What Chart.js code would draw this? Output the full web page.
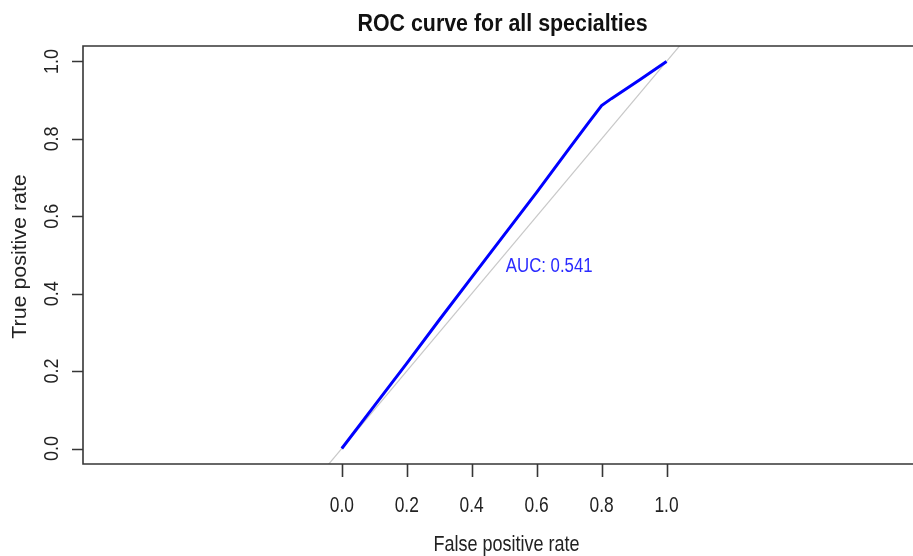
<!DOCTYPE html>
<html>
<head>
<meta charset="utf-8">
<script src="https://cdn.jsdelivr.net/npm/chart.js@4.4.0/dist/chart.umd.min.js"></script>
<style>
  html, body { margin: 0; padding: 0; background: #fff; }
  canvas { display: block; }
</style>
</head>
<body>
<canvas id="roc" width="913" height="556"></canvas>
<script>
// ROC points (false positive rate / true positive rate)
const fpr = [0, 0.1, 0.2, 0.3, 0.4, 0.5, 0.6, 0.7, 0.76, 0.8, 0.83, 0.92, 1.0];
const tpr = [0, 0.11, 0.22, 0.332, 0.442, 0.552, 0.662, 0.775, 0.842, 0.886, 0.904, 0.954, 1.0];

// y = x reference line, clipped by the plot area
const refX = [-0.8, 1.8];
const refY = [-0.8, 1.8];

const xTicks = [0, 0.2, 0.4, 0.6, 0.8, 1.0];
const yTicks = [0, 0.2, 0.4, 0.6, 0.8, 1.0];
const auc = 0.541;

const TXT = "#222";
const AXIS = "#363636";

function zip(xs, ys) {
  return xs.map((x, i) => ({ x: x, y: ys[i] }));
}

// draw a string with a horizontal squeeze factor, optionally rotated
function drawText(ctx, str, x, y, o) {
  ctx.save();
  ctx.translate(x, y);
  if (o.rotate) ctx.rotate(-Math.PI / 2);
  ctx.scale(o.sx || 1, 1);
  ctx.font = o.font;
  ctx.fillStyle = o.color || TXT;
  ctx.textAlign = o.align || "center";
  ctx.textBaseline = "alphabetic";
  ctx.fillText(str, 0, 0);
  ctx.restore();
}

const rAxes = {
  id: "rAxes",
  afterDraw(chart) {
    const ctx = chart.ctx;
    const a = chart.chartArea;
    const xs = chart.scales.x, ys = chart.scales.y;

    // box: left, top, bottom
    ctx.save();
    ctx.strokeStyle = AXIS;
    ctx.lineWidth = 1.6;
    ctx.beginPath();
    ctx.moveTo(chart.width, a.top);
    ctx.lineTo(a.left, a.top);
    ctx.lineTo(a.left, a.bottom);
    ctx.lineTo(chart.width, a.bottom);
    ctx.stroke();

    // tick marks
    ctx.beginPath();
    xTicks.forEach(v => {
      const px = Math.round(xs.getPixelForValue(v)) + 0.5;
      ctx.moveTo(px, a.bottom);
      ctx.lineTo(px, a.bottom + 13);
    });
    yTicks.forEach(v => {
      const py = Math.round(ys.getPixelForValue(v)) + 0.5;
      ctx.moveTo(a.left, py);
      ctx.lineTo(a.left - 11, py);
    });
    ctx.stroke();
    ctx.restore();

    // tick labels
    xTicks.forEach(v => {
      drawText(ctx, v.toFixed(1), xs.getPixelForValue(v), 512,
        { font: "22px 'Liberation Sans', Arial, sans-serif", sx: 0.79 });
    });
    yTicks.forEach(v => {
      drawText(ctx, v.toFixed(1), 58, ys.getPixelForValue(v),
        { font: "19.5px 'Liberation Sans', Arial, sans-serif", sx: 0.92, rotate: true });
    });

    // titles
    drawText(ctx, "ROC curve for all specialties", 502.5, 31,
      { font: "bold 23px 'Liberation Sans', Arial, sans-serif", sx: 0.93, color: "#111" });
    drawText(ctx, "False positive rate", 506.5, 551,
      { font: "22.5px 'Liberation Sans', Arial, sans-serif", sx: 0.8 });
    drawText(ctx, "True positive rate", 26, 256.5,
      { font: "20px 'Liberation Sans', Arial, sans-serif", sx: 1.07, rotate: true });

    // AUC annotation
    drawText(ctx, "AUC: " + auc.toFixed(3), xs.getPixelForValue(0.505), ys.getPixelForValue(0.455),
      { font: "20px 'Liberation Sans', Arial, sans-serif", sx: 0.84, align: "left", color: "#2b2bff" });
  }
};

new Chart(document.getElementById("roc"), {
  type: "scatter",
  data: {
    datasets: [
      {
        data: zip(fpr, tpr),
        showLine: true,
        borderColor: "#0000ff",
        borderWidth: 3,
        pointRadius: 0,
        tension: 0
      },
      {
        data: zip(refX, refY),
        showLine: true,
        borderColor: "#c8c8c8",
        borderWidth: 1.2,
        pointRadius: 0
      }
    ]
  },
  options: {
    responsive: false,
    animation: false,
    devicePixelRatio: 1,
    layout: { padding: { left: 83, top: 46, right: 0, bottom: 92 } },
    plugins: { legend: { display: false }, tooltip: { enabled: false } },
    scales: {
      x: { type: "linear", display: false, min: -0.797, max: 1.759 },
      y: { type: "linear", display: false, min: -0.04, max: 1.04 }
    }
  },
  plugins: [rAxes]
});
</script>
</body>
</html>
